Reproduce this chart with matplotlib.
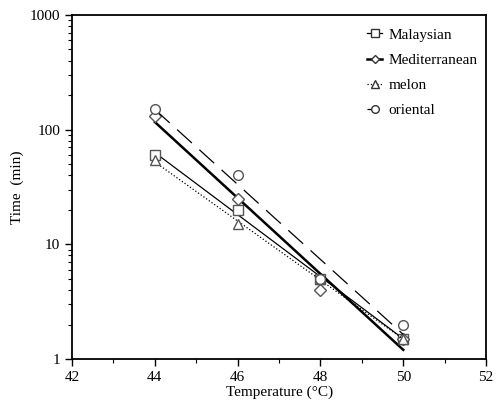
import numpy as np
import matplotlib.pyplot as plt
from matplotlib.ticker import LogLocator, FixedLocator, NullFormatter

# temperatures (°C) and heating times (min)
temps = [44, 46, 48, 50]
malaysian = [60, 20, 5, 1.5]
mediterranean = [131, 25, 4, 1.5]
melon = [54, 15, 5, 1.5]
oriental = [151, 40, 5, 2.0]

names = ["Malaysian", "Mediterranean", "melon", "oriental"]
series = [malaysian, mediterranean, melon, oriental]
markers = ["s", "D", "^", "o"]
msizes = [7, 6, 7, 7]
styles = ["-", "-", ":", (0, (16, 8))]
widths = [0.9, 1.8, 0.9, 0.9]

plt.rcParams["font.family"] = "Liberation Serif"
fig = plt.figure(figsize=(4.97, 4.03), dpi=100)
ax = fig.add_axes([0.145, 0.109, 0.833, 0.854])

x = np.array(temps, dtype=float)
for name, y, m, ms, ls, lw in zip(names, series, markers, msizes, styles, widths):
    # log-linear regression line through the points
    k, b = np.polyfit(x, np.log10(y), 1)
    ax.plot(x, 10 ** (k * x + b), color="black", linestyle=ls, linewidth=lw)
    ax.plot(x, y, linestyle="none", marker=m, markersize=ms,
            markerfacecolor="white", markeredgecolor="#555555", markeredgewidth=1.0)
    # legend proxy
    ax.plot([], [], color="black", linestyle=ls if ls != styles[3] else (0, (3, 3)),
            linewidth=lw, marker=m,
            markersize=ms - 1.5, markerfacecolor="white", markeredgecolor="#333333",
            label=name)

ax.set_yscale("log")
ax.set_xlim(42, 52)
ax.set_ylim(1, 1000)
ax.set_xticks([42, 44, 46, 48, 50, 52])
ax.xaxis.set_minor_locator(FixedLocator([43, 45, 47, 49, 51]))
ax.set_yticks([1, 10, 100, 1000])
ax.set_yticklabels(["1", "10", "100", "1000"])
ax.yaxis.set_minor_locator(LogLocator(base=10, subs=np.arange(2, 10)))
ax.yaxis.set_minor_formatter(NullFormatter())

ax.tick_params(which="major", direction="out", length=5, width=1, labelsize=11)
ax.tick_params(which="minor", direction="out", length=3, width=0.8)
for s in ax.spines.values():
    s.set_linewidth(1.3)

ax.set_xlabel("Temperature (°C)", fontsize=11, labelpad=1)
ax.set_ylabel("Time  (min)", fontsize=11, labelpad=4)

ax.legend(loc="upper right", bbox_to_anchor=(1.005, 0.993), frameon=False,
          fontsize=11, handlelength=1.0, handletextpad=0.4, labelspacing=0.75,
          borderaxespad=0.3)

fig.savefig("out.png", dpi=100)
